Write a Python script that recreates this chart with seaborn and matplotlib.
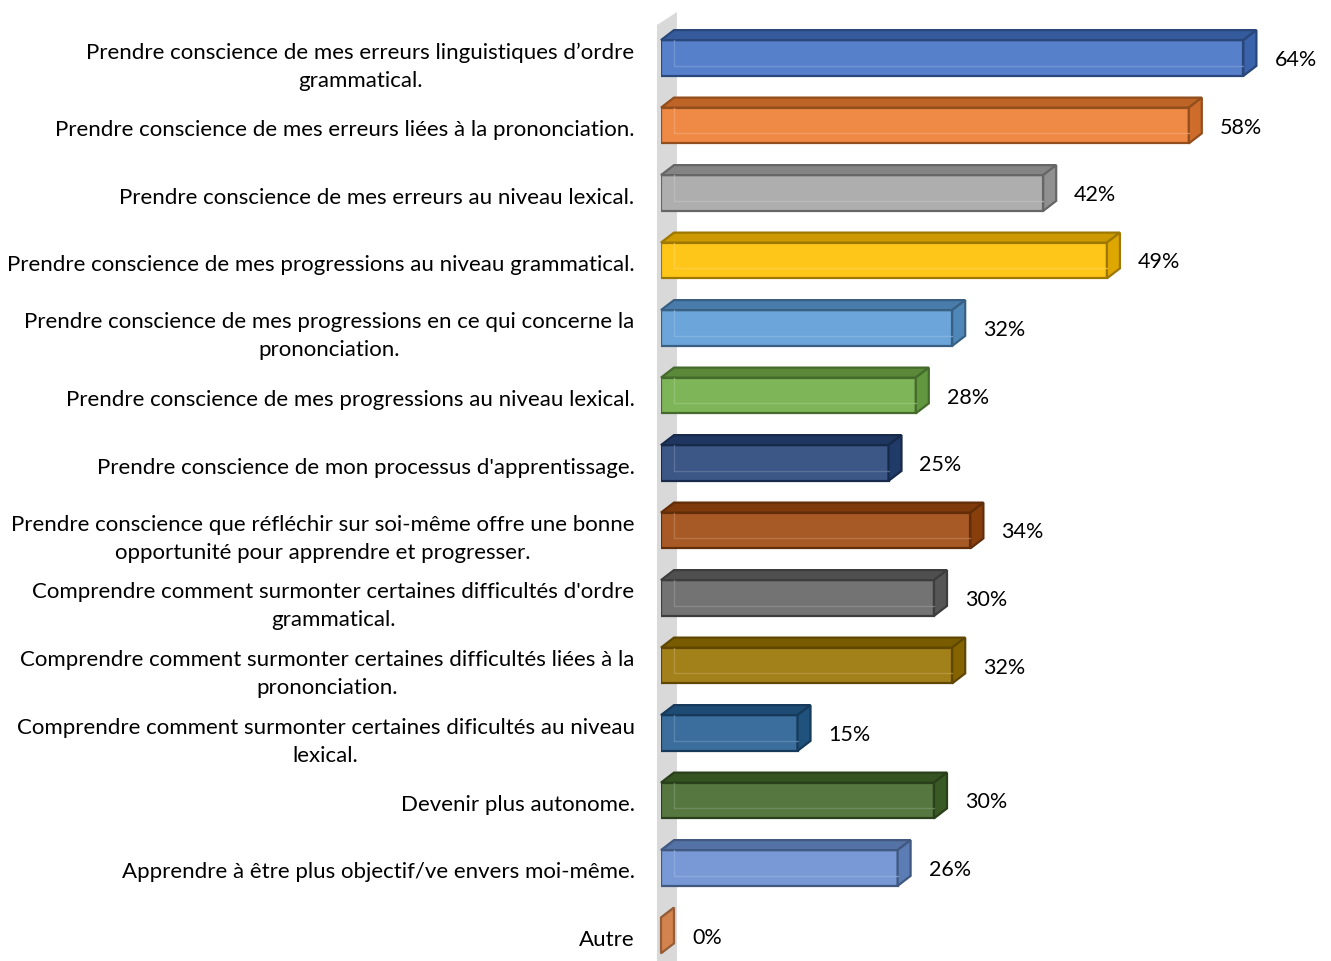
import matplotlib
matplotlib.use("Agg")
import matplotlib.pyplot as plt
import matplotlib.colors as mcolors
import matplotlib.transforms as mtransforms
from matplotlib.patches import Polygon
import seaborn as sns
import pandas as pd

# data
categories = [
    "Prendre conscience de mes erreurs linguistiques d\u2019ordre\ngrammatical.",
    "Prendre conscience de mes erreurs li\u00e9es \u00e0 la prononciation.",
    "Prendre conscience de mes erreurs au niveau lexical.",
    "Prendre conscience de mes progressions au niveau grammatical.",
    "Prendre conscience de mes progressions en ce qui concerne la\nprononciation.",
    "Prendre conscience de mes progressions au niveau lexical.",
    "Prendre conscience de mon processus d'apprentissage.",
    "Prendre conscience que r\u00e9fl\u00e9chir sur soi-m\u00eame offre une bonne\nopportunit\u00e9 pour apprendre et progresser.",
    "Comprendre comment surmonter certaines difficult\u00e9s d'ordre\ngrammatical.",
    "Comprendre comment surmonter certaines difficult\u00e9s li\u00e9es \u00e0 la\nprononciation.",
    "Comprendre comment surmonter certaines dificult\u00e9s au niveau\nlexical.",
    "Devenir plus autonome.",
    "Apprendre \u00e0 \u00eatre plus objectif/ve envers moi-m\u00eame.",
    "Autre",
]
values = [64, 58, 42, 49, 32, 28, 25, 34, 30, 32, 15, 30, 26, 0]
colors = ["#4472C4", "#ED7D31", "#A5A5A5", "#FFC000", "#5B9BD5", "#70AD47",
          "#264478", "#9E480E", "#636363", "#997300", "#255E91", "#43682B",
          "#698ED0", "#F1975A"]

df = pd.DataFrame({"label": categories, "value": values})


def shade(c, f):
    r, g, b = mcolors.to_rgb(c)
    return (r * f, g * f, b * f)


def lighten(c, f):
    r, g, b = mcolors.to_rgb(c)
    return (r + (1 - r) * f, g + (1 - g) * f, b + (1 - b) * f)


sns.set_theme(style="white")
plt.rcParams["font.family"] = ["Lato", "DejaVu Sans"]
plt.rcParams["text.color"] = "black"
plt.rcParams["ytick.color"] = "black"

fig = plt.figure(figsize=(13.31, 9.61), dpi=100)
px_per_unit = 9.1
row_px = 67.5
ax = fig.add_axes([661 / 1331, 0, 670 / 1331, 1])

front_colors = [lighten(c, 0.1) for c in colors]
sns.barplot(data=df, y="label", x="value", hue="label", palette=front_colors,
            legend=False, orient="h", width=0.53, ax=ax, saturation=1,
            linewidth=1.5, edgecolor="none", zorder=3)

ax.set_xlim(0, 670 / px_per_unit)
ax.set_ylim((961 - 58) / row_px, -58 / row_px)

dx = 13 / px_per_unit
dy = 10 / row_px

# back wall
wall_l, wall_r = -4 / px_per_unit, 16 / px_per_unit
wall = Polygon([(wall_l, 20), (wall_l, -33 / row_px), (wall_r, -46 / row_px), (wall_r, 20)],
               closed=True, facecolor="#d9d9d9", edgecolor="none", clip_on=False, zorder=1)
ax.add_patch(wall)

for bar, c, v in zip(ax.patches[:len(values)], colors, values):
    x0 = bar.get_x()
    w = bar.get_width()
    y0 = bar.get_y()
    h = bar.get_height()
    top, bot = y0, y0 + h  # inverted axis: y0 is upper edge
    x1 = x0 + w
    edge = shade(c, 0.62)
    bar.set_edgecolor(edge)
    bar.set_linewidth(1.6)
    # top face
    ax.add_patch(Polygon([(x0, top), (x0 + dx, top - dy), (x1 + dx, top - dy), (x1, top)],
                         closed=True, facecolor=shade(c, 0.8), edgecolor=edge,
                         linewidth=1.6, zorder=4, clip_on=False))
    # side face
    ax.add_patch(Polygon([(x1, top), (x1 + dx, top - dy), (x1 + dx, bot - dy), (x1, bot)],
                         closed=True, facecolor=shade(c, 0.87), edgecolor=edge,
                         linewidth=1.6, zorder=4, clip_on=False))
    # hidden back edges seen through the bar
    if w > 0:
        ax.plot([x0 + dx, x0 + dx], [top, bot - dy], color=lighten(c, 0.3),
                lw=1, alpha=0.7, zorder=4)
        ax.plot([x0 + dx, x1], [bot - dy, bot - dy], color=lighten(c, 0.3),
                lw=1, alpha=0.7, zorder=4)
    ax.text(x1 + 31 / px_per_unit, bar.get_y() + h / 2 + 2 / row_px, f"{v}%",
            va="center", ha="left", fontsize=15.5, color="black", zorder=5)

ax.set_xlabel("")
ax.set_ylabel("")
ax.set_xticks([])
ax.tick_params(axis="y", length=0, pad=19, labelsize=16)
offset = mtransforms.ScaledTranslation(0, -2.5 / 100, fig.dpi_scale_trans)
for lab in ax.get_yticklabels():
    lab.set_multialignment("center")
    lab.set_transform(lab.get_transform() + offset)
    lab.set_linespacing(1.5)
    lab.set_color("black")
sns.despine(ax=ax, left=True, bottom=True)
ax.set_facecolor("none")

fig.savefig("out.png", dpi=100)
